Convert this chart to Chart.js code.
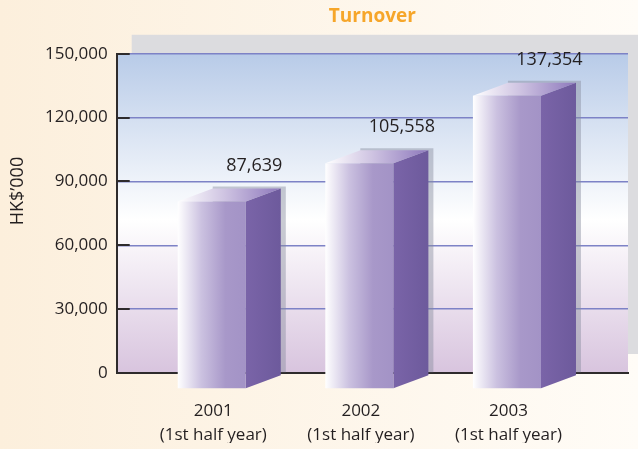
<!DOCTYPE html>
<html>
<head>
<meta charset="utf-8">
<script src="https://cdn.jsdelivr.net/npm/chart.js@4/dist/chart.umd.min.js"></script>
<style>
  html, body { margin: 0; padding: 0; background: #fdf3e6; }
  #wrap { width: 638px; height: 449px; position: relative; }
</style>
</head>
<body>
<div id="wrap"><canvas id="chart"></canvas></div>
<script>
const years = ["2001", "2002", "2003"];
const periodNote = "(1st half year)";
const turnover = [87639, 105558, 137354];
const yTicks = [0, 30000, 60000, 90000, 120000, 150000];
const yTitle = "HK$’000";

const FONT = "'Open Sans', 'DejaVu Sans', sans-serif";
const INK = "#231f20";
const numberFormat = new Intl.NumberFormat("en-US");

// page colour, grey offset panel and the plot's vertical wash
const backdrop = {
  id: "backdrop",
  beforeDraw(chart) {
    const { ctx, width, height, chartArea: a } = chart;
    ctx.save();
    const page = ctx.createLinearGradient(0, 0, width, 0);
    page.addColorStop(0, "#fcefdc");
    page.addColorStop(1, "#fffcf7");
    ctx.fillStyle = page;
    ctx.fillRect(0, 0, width, height);

    ctx.fillStyle = "#dcdcdf";
    ctx.fillRect(a.left + 15, a.top - 19, a.width, a.height);

    const wash = ctx.createLinearGradient(0, a.top, 0, a.bottom);
    wash.addColorStop(0, "#b8cbe8");
    wash.addColorStop(0.52, "#ffffff");
    wash.addColorStop(1, "#d8c4de");
    ctx.fillStyle = wash;
    ctx.fillRect(a.left, a.top, a.width, a.height);

    // axis title, sitting a little above the middle like the original
    ctx.translate(18, a.top + a.height * 0.43);
    ctx.rotate(-Math.PI / 2);
    ctx.fillStyle = INK;
    ctx.font = `18px ${FONT}`;
    ctx.textAlign = "center";
    ctx.textBaseline = "middle";
    ctx.fillText(yTitle, 0, 0);
    ctx.restore();
  },
};

// the 3D prisms sit in front of each (shadow) bar, shifted left and down
const prisms = {
  id: "prisms",
  afterDatasetsDraw(chart) {
    const { ctx } = chart;
    const meta = chart.getDatasetMeta(0);
    const dx = 35;
    const dy = 13;
    ctx.save();
    meta.data.forEach((bar, i) => {
      const left = bar.x - bar.width / 2;
      const right = left + bar.width - 5;
      const top = bar.y + 2;
      const bottom = bar.base + 3;
      const fl = left - dx;
      const fr = right - dx;
      const ft = top + dy;
      const fb = bottom + dy;

      // side face
      const side = ctx.createLinearGradient(fr, 0, right, 0);
      side.addColorStop(0, "#7a64a8");
      side.addColorStop(1, "#6d5a9c");
      ctx.fillStyle = side;
      ctx.beginPath();
      ctx.moveTo(fr, ft);
      ctx.lineTo(right, top);
      ctx.lineTo(right, bottom);
      ctx.lineTo(fr, fb);
      ctx.closePath();
      ctx.fill();

      // top face
      const lid = ctx.createLinearGradient(fl, 0, right, 0);
      lid.addColorStop(0, "#ffffff");
      lid.addColorStop(0.45, "#cfc4e2");
      lid.addColorStop(1, "#8d78bc");
      ctx.fillStyle = lid;
      ctx.beginPath();
      ctx.moveTo(fl, ft);
      ctx.lineTo(left, top);
      ctx.lineTo(right, top);
      ctx.lineTo(fr, ft);
      ctx.closePath();
      ctx.fill();

      // front face
      const face = ctx.createLinearGradient(fl, 0, fr, 0);
      face.addColorStop(0, "#ffffff");
      face.addColorStop(0.35, "#cbc1e0");
      face.addColorStop(0.7, "#a898c9");
      face.addColorStop(1, "#a393c6");
      ctx.fillStyle = face;
      ctx.fillRect(fl, ft, fr - fl, fb - ft);

      // value label
      ctx.fillStyle = INK;
      ctx.font = `18px ${FONT}`;
      ctx.textAlign = "center";
      ctx.textBaseline = "middle";
      ctx.fillText(numberFormat.format(turnover[i]), bar.x + 5, bar.y - 21);
    });

    // short dark ticks just inside the value axis
    const a = chart.chartArea;
    const y = chart.scales.y;
    ctx.strokeStyle = "#2e2b2c";
    ctx.lineWidth = 2;
    yTicks.forEach((v) => {
      const py = Math.round(y.getPixelForValue(v));
      ctx.beginPath();
      ctx.moveTo(a.left, py);
      ctx.lineTo(a.left + 13, py);
      ctx.stroke();
    });
    ctx.restore();
  },
};

new Chart(document.getElementById("chart"), {
  type: "bar",
  data: {
    datasets: [
      {
        label: "Turnover",
        data: turnover.map((v, i) => ({ x: i, y: v })),
        backgroundColor: "rgba(135, 140, 158, 0.45)",
        borderWidth: 0,
        categoryPercentage: 0.9,
        barPercentage: 0.55,
      },
    ],
  },
  options: {
    responsive: true,
    maintainAspectRatio: false,
    animation: false,
    events: [],
    layout: { padding: { left: 36, right: 10, top: 0, bottom: 6 } },
    plugins: {
      legend: { display: false },
      tooltip: { enabled: false },
      title: {
        display: true,
        fullSize: false,
        text: "Turnover",
        color: "#f6a62a",
        font: { family: FONT, size: 19, weight: "bold" },
        padding: { top: 5, bottom: 26 },
      },
    },
    scales: {
      x: {
        type: "linear",
        offset: false,
        min: -0.898,
        max: 2.566,
        afterBuildTicks: (axis) => {
          axis.ticks = years.map((_, i) => ({ value: i }));
        },
        afterFit: (axis) => {
          axis.height = 70;
        },
        grid: { display: false },
        border: { color: "#2e2b2c", width: 2 },
        ticks: {
          color: INK,
          font: { family: FONT, size: 17, lineHeight: 1.4 },
          padding: 18,
          labelOffset: -36,
          maxRotation: 0,
          autoSkip: false,
          callback: (value) => [years[value], periodNote],
        },
      },
      y: {
        min: 0,
        max: 150000,
        afterBuildTicks: (axis) => {
          axis.ticks = yTicks.map((v) => ({ value: v }));
        },
        grid: { color: "#7d82c6", lineWidth: 1.5, drawTicks: false },
        border: { color: "#2e2b2c", width: 2 },
        ticks: {
          color: INK,
          font: { family: FONT, size: 17 },
          padding: 9,
          callback: (value) => numberFormat.format(value),
        },
      },
    },
  },
  plugins: [backdrop, prisms],
});
</script>
</body>
</html>
